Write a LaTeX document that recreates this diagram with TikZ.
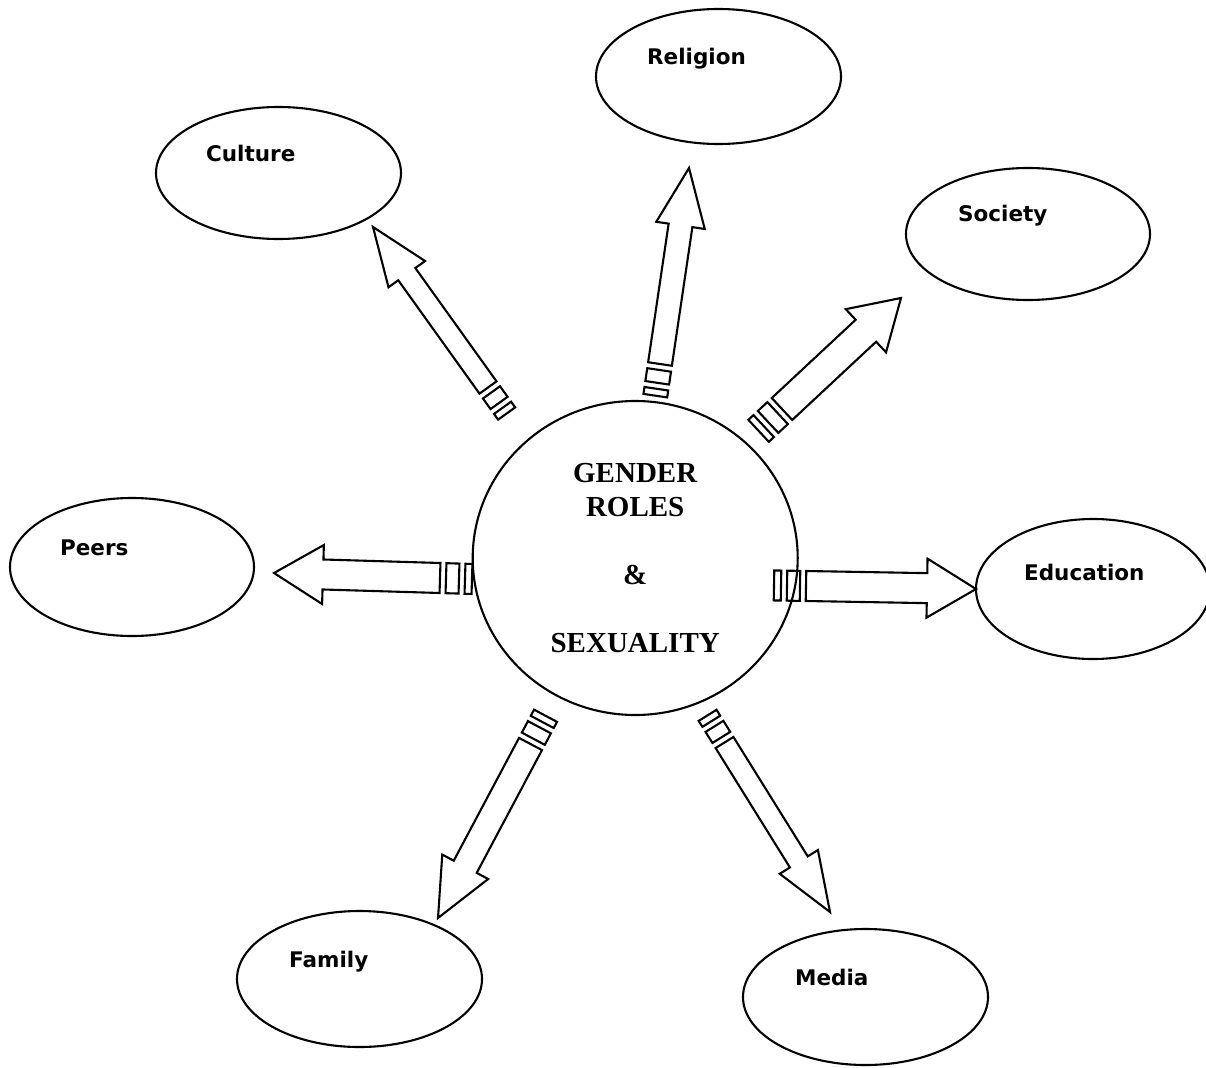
\documentclass[tikz,border=0pt]{standalone}
\usepackage{fontspec}
\setmainfont{Liberation Serif}
\newfontfamily\labelfont{DejaVu Sans}
\usetikzlibrary{calc,shapes.geometric}

\newdimen\blockdx
\newdimen\blockdy
% Hollow block arrow from tail coordinate #1 to tip coordinate #2,
% shaft width #3, head width #4, head length #5, with two spacer bars behind the tail.
\newcommand\blockarrow[5]{%
  \pgfextractx{\blockdx}{\pgfpointdiff{\pgfpointanchor{#1}{center}}{\pgfpointanchor{#2}{center}}}%
  \pgfextracty{\blockdy}{\pgfpointdiff{\pgfpointanchor{#1}{center}}{\pgfpointanchor{#2}{center}}}%
  \pgfmathsetmacro\blocklen{veclen(\blockdx,\blockdy)}%
  \pgfmathsetmacro\blockang{atan2(\blockdy,\blockdx)}%
  \pgfmathsetmacro\blockneck{\blocklen-#5}%
  \begin{scope}[shift={(#1)}, rotate=\blockang, x=1pt, y=1pt]
    \draw[blockline] (0,-#3/2) -- (\blockneck,-#3/2) -- (\blockneck,-#4/2)
      -- (\blocklen,0) -- (\blockneck,#4/2) -- (\blockneck,#3/2) -- (0,#3/2) -- cycle;
    \draw[blockline] (-6,-#3/2) rectangle (-19,#3/2);
    \draw[blockline] (-25,-#3/2) rectangle (-32,#3/2);
  \end{scope}}

\tikzset{
  blockline/.style={line width=2.1pt, line join=miter},
  topic/.style={ellipse, draw, line width=2.1pt, inner sep=0pt},
  lbl/.style={anchor=base west, inner sep=0pt,
    font=\labelfont\bfseries\fontsize{21.5}{25}\selectfont},
  hub/.style={ellipse, draw, line width=2.1pt, inner sep=0pt,
    minimum width=325pt, minimum height=314pt, align=center,
    font=\bfseries\fontsize{29}{34}\selectfont}
}

\begin{document}
\begin{tikzpicture}[x=1pt, y=-1pt]
  \fill[white] (0,0) rectangle (1206,1067);
  \useasboundingbox (0,0) rectangle (1206,1067);

  % central topic
  \node[hub] (hub) at (635.2,558) {GENDER\\ROLES\\[34pt]\&\\[34pt]SEXUALITY};

  % surrounding influences
  \node[topic, minimum width=245pt, minimum height=132pt] (culture)   at (278.5,173) {};
  \node[topic, minimum width=245pt, minimum height=135pt] (religion)  at (718.5,76.5) {};
  \node[topic, minimum width=244pt, minimum height=132pt] (society)   at (1028,234) {};
  \node[topic, minimum width=244pt, minimum height=138pt] (peers)     at (132,567) {};
  \node[topic, minimum width=234pt, minimum height=140pt] (education) at (1093,589) {};
  \node[topic, minimum width=245pt, minimum height=136pt] (family)    at (359.5,979) {};
  \node[topic, minimum width=245pt, minimum height=136pt] (media)     at (865.5,997) {};

  \node[lbl] (culture-text)   at ($(culture.west)+(51,-11)$)   {Culture};
  \node[lbl] (religion-text)  at ($(religion.west)+(52,-12)$)  {Religion};
  \node[lbl] (society-text)   at ($(society.west)+(53,-12)$)   {Society};
  \node[lbl] (peers-text)     at ($(peers.west)+(51,-12)$)     {Peers};
  \node[lbl] (education-text) at ($(education.west)+(49,-9)$)  {Education};
  \node[lbl] (family-text)    at ($(family.west)+(53,-12)$)    {Family};
  \node[lbl] (media-text)     at ($(media.west)+(53,-12)$)     {Media};

  % arrow tails near the hub and tips near each topic
  \coordinate (culture-tail)   at (488,387.5);  \coordinate (culture-tip)   at (373,227);
  \coordinate (religion-tail)  at (660,364);    \coordinate (religion-tip)  at (689,168);
  \coordinate (society-tail)   at (782,409);    \coordinate (society-tip)   at (901,298);
  \coordinate (peers-tail)     at (440,578);    \coordinate (peers-tip)     at (274,573);
  \coordinate (education-tail) at (806,586);    \coordinate (education-tip) at (976,589);
  \coordinate (family-tail)    at (530.5,744);  \coordinate (family-tip)    at (438,918);
  \coordinate (media-tail)     at (724.5,742.5);\coordinate (media-tip)     at (830,912);

  \blockarrow{culture-tail}{culture-tip}{21}{45}{58}
  \blockarrow{religion-tail}{religion-tip}{24}{49}{58}
  \blockarrow{society-tail}{society-tip}{30}{59}{48}
  \blockarrow{peers-tail}{peers-tip}{30}{59}{49}
  \blockarrow{education-tail}{education-tip}{30}{59}{49}
  \blockarrow{family-tail}{family-tip}{26}{52}{58}
  \blockarrow{media-tail}{media-tip}{21}{45}{59}
\end{tikzpicture}
\end{document}
